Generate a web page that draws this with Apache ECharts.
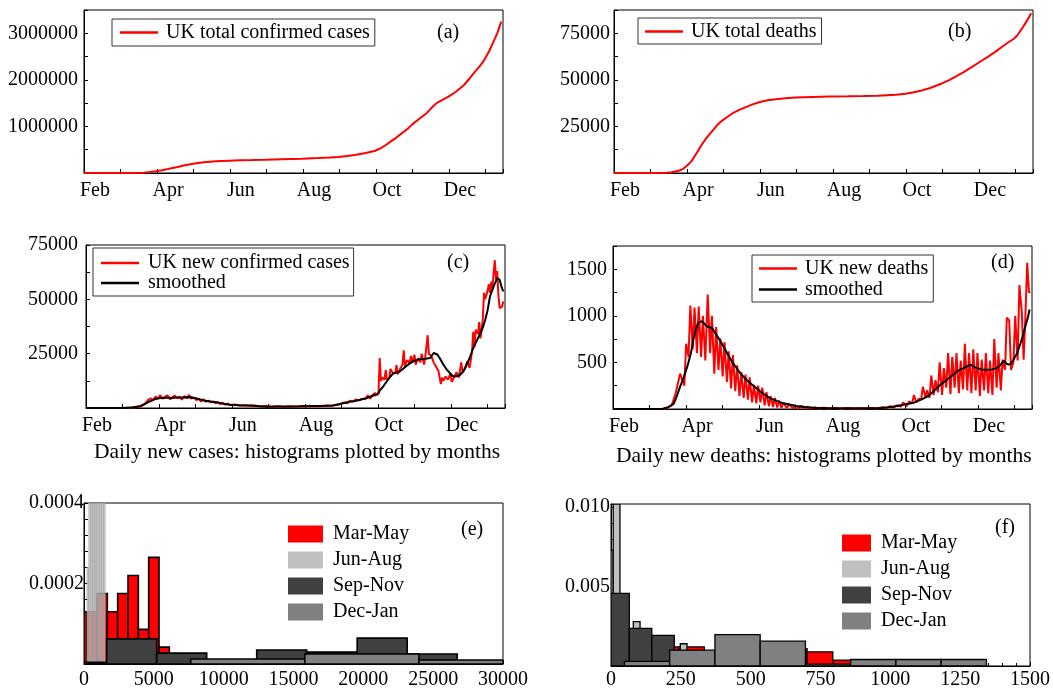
<!DOCTYPE html>
<html><head><meta charset="utf-8">
<script src="https://cdn.jsdelivr.net/npm/echarts@6/dist/echarts.min.js"></script>
<style>html,body{margin:0;padding:0;background:#fff}#c{width:1053px;height:690px}</style>
</head><body><div id="c"></div><script>
// ---------- tick labels ----------
const monthNames = ['Feb','Mar','Apr','May','Jun','Jul','Aug','Sep','Oct','Nov','Dec','Jan'];
// ---------- (a) UK total confirmed cases: [day since Feb 1, value] ----------
const casesTotal = [[0,0],[30,0],[40,300],[46,2600],[50,8000],[55,22000],[60,40000],[65,60000],[70,85000],[74,107000],[80,140000],[85,170000],[90,195000],[95,215000],[100,230000],[105,242000],[110,250000],[115,258000],[121,264000],[130,272000],[140,278000],[151,285000],[165,295000],[182,307000],[195,320000],[205,332000],[212,343000],[220,365000],[227,393000],[235,430000],[243,478000],[248,540000],[252,607000],[256,680000],[260,750000],[265,850000],[270,950000],[274,1050000],[280,1170000],[286,1290000],[290,1400000],[294,1500000],[299,1570000],[304,1640000],[310,1740000],[317,1890000],[322,2040000],[326,2170000],[330,2290000],[334,2430000],[338,2620000],[341,2790000],[345,3020000],[348,3250000]];
// ---------- (b) UK total deaths ----------
const deathsTotal = [[0,0],[40,0],[44,100],[48,400],[52,900],[55,1500],[57.5,2100],[61,4000],[64.5,6250],[69,10700],[73,15000],[77,18750],[81,21800],[84,24100],[87,26300],[90,28000],[95,30300],[99,32100],[105,34000],[110,35400],[115,36700],[121,38000],[128,39000],[135,39600],[145,40200],[152,40500],[165,40850],[180,41100],[195,41200],[208,41300],[220,41500],[235,42000],[243,42500],[249,43200],[256,44200],[263,45500],[268,46700],[274,48200],[280,50000],[286,52100],[292,54300],[299,57100],[306,60000],[313,62900],[318,65000],[324,67900],[329,70200],[333,71800],[336,73500],[338,75400],[341,78200],[344,81250],[346,83500],[348,85700]];
// ---------- (c) UK new confirmed cases ----------
const casesNew = [[0,0],[30,0],[40,200],[45,700],[48,1500],[50,2500],[52,3800],[54,4500],[56,3600],[58,5300],[60,4400],[62,5900],[64,4200],[66,5200],[68,5800],[70,4000],[72,4700],[74,5700],[76,4600],[78,5200],[80,3800],[82,5500],[84,4500],[86,6000],[88,4300],[90,4800],[92,3600],[94,4200],[96,3000],[98,4000],[100,2900],[102,3400],[104,2600],[106,3000],[108,2200],[110,2600],[112,1800],[114,2300],[116,1500],[118,2000],[120,1400],[124,1600],[128,1200],[132,1300],[136,1000],[140,1100],[145,700],[150,900],[155,600],[160,800],[165,500],[170,700],[175,600],[180,800],[185,700],[190,900],[195,800],[200,1100],[205,1000],[208,1400],[212,1700],[215,2500],[218,2200],[220,3300],[223,3000],[225,3900],[228,3500],[230,4200],[233,4000],[235,5800],[237,4300],[239,6000],[241,6900],[243,6000],[244,7000],[245,23000],[246,12500],[247,14000],[249,13000],[250,17500],[251,12800],[253,14000],[254,18000],[256,16000],[258,16000],[259,19700],[260,15500],[262,18000],[264,20000],[265,26500],[266,19500],[268,22000],[270,20500],[271,24000],[272,21000],[274,24500],[275,20000],[277,23000],[279,21000],[280,25000],[282,20000],[283,23500],[285,33500],[286,25000],[288,24000],[290,21000],[292,19000],[294,17000],[296,11000],[297,14000],[298,12500],[300,14500],[302,13000],[304,16000],[305,12000],[307,14000],[309,16500],[311,14000],[313,21000],[314,17000],[316,18000],[318,21500],[320,18500],[322,26000],[323,35000],[324,28000],[325,36000],[327,34000],[328,39500],[329,32000],[330,36000],[331,41000],[332,53000],[333,50000],[335,54000],[336,57000],[337,53000],[338,58000],[339,55000],[340,62000],[341,68000],[342,59000],[343,63000],[344,52000],[345,46000],[347,46500],[348,49000]];
const casesSmooth = [[0,0],[31,0],[38,200],[45,770],[49,1800],[53,3000],[57,4000],[62,4600],[67,4700],[73,4700],[80,4800],[88,4900],[93,4300],[98,3500],[104,3000],[109,2600],[115,2000],[120,1500],[128,1300],[137,1100],[145,800],[151,600],[160,650],[170,700],[178,770],[190,900],[200,1000],[206,1200],[211,1700],[215,2300],[219,2800],[223,3100],[228,3700],[234,4600],[238,5400],[242,6100],[244,6800],[245,8000],[248,10000],[251,12300],[254,14500],[256,15800],[259,16300],[262,16900],[266,18800],[270,20500],[273,21500],[276,22100],[279,22500],[283,22700],[287,23000],[290,25300],[293,24600],[295,23000],[298,20000],[301,17600],[304,15800],[306,14600],[309,14600],[312,15300],[315,17000],[317,19200],[320,23000],[323,27600],[326,31000],[329,34500],[331,37000],[333,40600],[335,45000],[337,51400],[340,56000],[343,59800],[345,59000],[346.5,56000],[348,53700]];
// ---------- (d) UK new deaths ----------
const deathsNew = [[0,0],[42,0],[45,10],[49,40],[52.5,180],[56,380],[59.5,250],[61,700],[63,560],[64.5,1110],[66.5,640],[68,1090],[70,600],[71.5,1100],[73.5,560],[75,1000],[77,520],[79,1230],[81,600],[82.5,1000],[84.5,380],[86,880],[88,420],[89.5,760],[91.5,350],[93,720],[95,290],[96.5,620],[98.5,220],[100,580],[102,190],[103.5,470],[105.5,140],[107,400],[109,120],[110.5,370],[112.5,100],[114,340],[116,70],[117.5,260],[119.5,60],[121,250],[123,70],[124.5,230],[126.5,40],[128,180],[130,30],[131.5,140],[133.5,20],[135,120],[137,15],[138.5,90],[140.5,10],[142,70],[145,10],[147,55],[150,5],[152,40],[155,5],[157,35],[160,2],[162,25],[166,3],[168,20],[172,2],[175,15],[180,2],[185,12],[190,1],[195,10],[200,2],[205,8],[210,3],[215,12],[220,5],[225,20],[228,10],[231,30],[234,15],[237,40],[240,25],[242,70],[245,30],[247,80],[249.5,60],[251,150],[253,70],[255,110],[257,100],[258.5,240],[260.5,130],[262,200],[264,120],[265.5,360],[267.5,150],[269,310],[271,180],[272.5,500],[274.5,150],[276,440],[278,230],[279.5,600],[281.5,160],[283,560],[285,230],[286.5,600],[288.5,170],[290,520],[292,210],[293.5,700],[295.5,200],[297,600],[299,170],[300.5,640],[302.5,200],[304,600],[306,140],[307.5,530],[309.5,200],[311,600],[313,170],[314.5,520],[316.5,150],[318,750],[320,230],[321.5,600],[323.5,200],[325,530],[327,420],[328.5,980],[330.5,950],[332,420],[334,500],[335.5,1000],[337.5,520],[339,1330],[341,1040],[342.5,530],[344,1000],[345.5,1570],[347,1250],[348,1260]];
const deathsSmooth = [[0,0],[41,0],[46,20],[50.6,54],[53,130],[56,241],[59,340],[62,457],[65,600],[67,745],[69,850],[71,925],[74,943],[76,920],[78,889],[80,880],[82.6,870],[85,820],[87,780],[90,720],[92,673],[96,580],[100,493],[103,440],[106,385],[110,330],[114.5,277],[119,230],[123,187],[127,150],[131,115],[137,85],[142,61],[148,45],[153,32],[160,22],[167,14],[180,9],[195,7],[210,8],[223,11],[230,20],[237,32],[244,50],[251,68],[257,100],[262,133],[266,175],[270,223],[274,270],[278.5,313],[283,360],[287,403],[290,425],[292.5,439],[295,455],[298,475],[301,455],[303.6,439],[308,425],[312,421],[316,425],[320,439],[323,470],[326,518],[328,490],[330,475],[332,490],[334,529],[337,600],[340,709],[342,790],[344,889],[346,980],[347.5,1068]];
// ---------- (e) histograms of daily new cases: [bin start, bin end, density] ----------
const caseMarMay = [[-549,191,0.00013],[191,931,0.00013],[931,1671,0.000175],[1671,2411,0.00013],[2411,3151,0.000175],[3151,3891,0.00022],[3891,4631,0.000086],[4631,5371,0.000265],[5371,6111,0.000042]];
const caseJunAug = [[215,345,0.00024],[345,475,0.0011],[475,605,0.0009],[605,735,0.0012],[735,865,0.0008],[865,995,0.0006],[995,1125,0.0007],[1125,1255,0.0005],[1255,1385,0.00045],[1385,1515,0.00042]];
const caseSepNov = [[-1955,1625,0.000004],[1625,5205,0.0000623],[5205,8785,0.000027],[8785,12365,0.000002],[12365,15945,0.0000346],[15945,19560,0.0000296],[19560,23140,0.0000642],[23140,26720,0.0000247]];
const caseDecJan = [[7640,15810,0.0000123],[15810,23980,0.0000247],[23980,32150,0.0000099]];
// ---------- (f) histograms of daily new deaths ----------
const deathMarMay = [[-34,58,0.0028],[58,150,0.0012],[150,242,0.0012],[242,334,0.0012],[334,426,0.0009],[426,518,0.0008],[518,610,0.0009],[610,702,0.0011],[702,794,0.00089],[794,886,0.00037],[886,978,0.00024],[978,1070,0.00024],[1070,1162,0.0001]];
const deathJunAug = [[-16,8,0.0073],[8,32,0.0125],[32,56,0.004],[56,80,0.0022],[80,104,0.0028],[104,128,0.0015],[128,152,0.0012],[152,176,0.0008],[176,200,0.0006],[200,224,0.0005],[224,248,0.0004],[248,272,0.0014]];
const deathSepNov = [[-15,65.5,0.00457],[65.5,146,0.00237],[146,226.5,0.00193],[226.5,307,0.00096],[307,387.5,0.00082],[387.5,468,0.0011],[468,548.5,0.00055],[548.5,629,0.00027]];
const deathDecJan = [[48,210,0.00029],[210,372,0.000997],[372,534,0.00197],[534,696,0.00156],[696,858,0.00012],[858,1020,0.00041],[1020,1182,0.00041],[1182,1344,0.00041]];

const F = 'Liberation Serif';
const MONTH = 30.44;
const chart = echarts.init(document.getElementById('c'), null, {renderer:'canvas'});

const grids = [
  {left:84, top:10, width:419, height:163},
  {left:614, top:10, width:419, height:163},
  {left:86, top:245, width:419, height:163},
  {left:613, top:246, width:419, height:163},
  {left:84, top:503, width:419, height:163},
  {left:611, top:504, width:419, height:164}
].map(g => Object.assign({show:true, borderColor:'#000', borderWidth:1, backgroundColor:'transparent'}, g));

function monthAxis(gi){
  return {type:'value', gridIndex:gi, min:0, max:349.5, interval:MONTH,
    axisLine:{show:true, onZero:false, lineStyle:{color:'#000', width:1}},
    axisTick:{show:true, inside:true, length:4, lineStyle:{color:'#000'}},
    splitLine:{show:false},
    axisLabel:{color:'#000', fontFamily:F, fontSize:20, margin:8, padding:[0,0,0,22],
      formatter: v => { const i = Math.round(v/MONTH); return (i%2===0 && i<12 && Math.abs(v-i*MONTH)<0.5) ? monthNames[i] : ''; }}};
}
function valAxis(gi, min, max, interval, fmt, margin, xdir, minor){
  const a = {type:'value', gridIndex:gi, min:min, max:max, interval:interval,
    axisLine:{show:true, onZero:false, lineStyle:{color:'#000', width:1}},
    axisTick:{show:true, inside:true, length:4, lineStyle:{color:'#000'}},
    splitLine:{show:false},
    axisLabel:{color:'#000', fontFamily:F, fontSize:20, margin:margin, formatter:fmt}};
  if (minor) a.minorTick = {show:true, splitNumber:minor, length:3, lineStyle:{color:'#000'}};
  return a;
}
const near = (v, t) => Math.abs(v - t) < 1e-9;
const yFmtA = v => (v > 0 && v % 1000000 === 0) ? String(v) : '';
const yFmt25k = v => (v > 0 && v % 25000 === 0) ? String(v) : '';
const yFmt500 = v => (v > 0 && v % 500 === 0) ? String(v) : '';
const yFmtE = v => near(v,0.0002) ? '0.0002' : (near(v,0.0004) ? '0.0004' : '');
const yFmtF = v => near(v,0.005) ? '0.005' : (near(v,0.01) ? '0.010' : '');

const xAxes = [monthAxis(0), monthAxis(1), monthAxis(2), monthAxis(3),
  valAxis(4, 0, 30000, 5000, v => String(v), 6, true, 5),
  valAxis(5, 0, 1500, 250, v => String(v), 4, true, 5)];
const yAxes = [
  valAxis(0, 0, 3500000, 500000, yFmtA, 6),
  valAxis(1, 0, 87500, 12500, yFmt25k, 4),
  valAxis(2, 0, 75000, 12500, yFmt25k, 8),
  valAxis(3, 0, 1750, 250, yFmt500, 6),
  valAxis(4, 0, 0.0004, 0.00004, yFmtE, 0),
  valAxis(5, 0, 0.0102, 0.001, yFmtF, 1)
];

function lineSeries(name, data, gi, color){
  return {type:'line', name:name, data:data, xAxisIndex:gi, yAxisIndex:gi, symbol:'none', showSymbol:false,
    lineStyle:{color:color, width:2}, itemStyle:{color:color}, clip:true, z:3};
}
function histRender(fill, stroke, lw){
  return function(params, api){
    const x0 = api.value(0), x1 = api.value(1), h = api.value(2);
    const p0 = api.coord([x0, h]);
    const p1 = api.coord([x1, 0]);
    const rect = {x:p0[0], y:p0[1], width:p1[0]-p0[0], height:p1[1]-p0[1]};
    const cs = params.coordSys;
    const c = echarts.graphic.clipRectByRect(rect, {x:cs.x, y:cs.y, width:cs.width, height:cs.height});
    if (!c) return null;
    return {type:'rect', shape:c, style:{fill:fill, stroke:stroke, lineWidth:lw}};
  };
}
function histSeries(name, data, gi, legendColor, fill, stroke, lw){
  return {type:'custom', name:name, data:data, xAxisIndex:gi, yAxisIndex:gi,
    encode:{x:[0,1], y:2}, renderItem:histRender(fill, stroke, lw), itemStyle:{color:legendColor}, clip:true};
}

const series = [
  lineSeries('UK total confirmed cases', casesTotal, 0, '#ff0000'),
  lineSeries('UK total deaths', deathsTotal, 1, '#ff0000'),
  lineSeries('UK new confirmed cases', casesNew, 2, '#ff0000'),
  lineSeries('smoothed', casesSmooth, 2, '#000000'),
  lineSeries('UK new deaths', deathsNew, 3, '#ff0000'),
  lineSeries('smoothed', deathsSmooth, 3, '#000000'),
  histSeries('Mar-May', caseMarMay, 4, '#ff0000', '#ff0000', '#000', 1.6),
  histSeries('Jun-Aug', caseJunAug, 4, '#c0c0c0', 'rgba(195,195,195,0.75)', '#999', 0.6),
  histSeries('Sep-Nov', caseSepNov, 4, '#404040', '#404040', '#000', 1.6),
  histSeries('Dec-Jan', caseDecJan, 4, '#808080', '#808080', '#000', 1.6),
  histSeries('Mar-May', deathMarMay, 5, '#ff0000', '#ff0000', '#000', 1.3),
  histSeries('Jun-Aug', deathJunAug, 5, '#c0c0c0', '#c0c0c0', '#000', 1.3),
  histSeries('Sep-Nov', deathSepNov, 5, '#404040', '#404040', '#000', 1.3),
  histSeries('Dec-Jan', deathDecJan, 5, '#808080', '#808080', '#000', 1.3)
];

const lt = (fs, lh, pl) => ({fontFamily:F, fontSize:fs, lineHeight:lh, color:'#000', padding:[0,0,0,pl]});
const boxLegend = (names, left, top, pad, lh, pl) => ({data:names, left:left, top:top, orient:'vertical', icon:'rect',
  itemWidth:38, itemHeight:2.5, itemGap:0, padding:pad, borderColor:'#333', borderWidth:1,
  textStyle:lt(20, lh, pl), selectedMode:false, itemStyle:{borderWidth:0}});
const histLegend = (left, top, w) => ({data:['Mar-May','Jun-Aug','Sep-Nov','Dec-Jan'], left:left, top:top, orient:'vertical',
  icon:'rect', itemWidth:w, itemHeight:17, itemGap:6, padding:0, textStyle:lt(20, 20, 5), selectedMode:false, itemStyle:{borderWidth:0}});

const legends = [
  boxLegend(['UK total confirmed cases'], 112, 19, [3,5,3,8], 21, 3),
  boxLegend(['UK total deaths'], 638, 18, [3,5,2,7], 21, 3),
  boxLegend(['UK new confirmed cases','smoothed'], 93, 248, [5,4,3,8], 19, 4),
  boxLegend(['UK new deaths','smoothed'], 752, 255, [3,5,2,7], 21, 3),
  histLegend(288, 524, 35),
  histLegend(842, 533, 29)
];

const tt = (text, left, top, fs) => ({text:text, left:left, top:top, padding:0,
  textStyle:{fontFamily:F, fontSize:fs, fontWeight:'normal', color:'#000'}});
const titles = [
  tt('(a)', 437, 23, 20), tt('(b)', 948, 22, 20), tt('(c)', 447, 253, 20), tt('(d)', 991, 253, 20),
  tt('(e)', 461, 520, 20), tt('(f)', 995, 518, 20),
  tt('Daily new cases: histograms plotted by months', 94, 441, 21.5),
  tt('Daily new deaths: histograms plotted by months', 616, 445, 21.5)
];

chart.setOption({animation:false, backgroundColor:'#fff', grid:grids, xAxis:xAxes, yAxis:yAxes,
  legend:legends, title:titles, series:series});
</script></body></html>
